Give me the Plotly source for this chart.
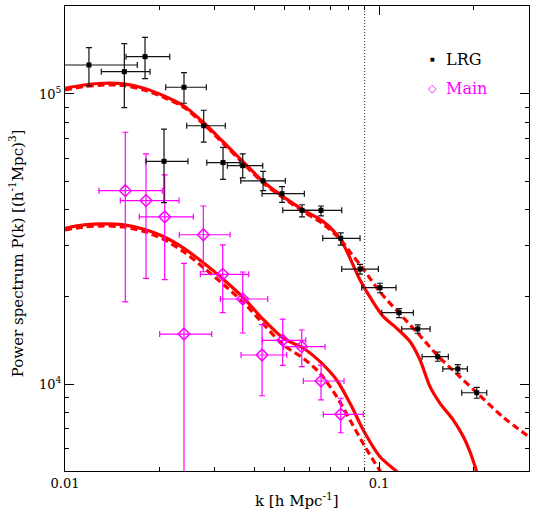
import plotly.graph_objects as go

# ---------------- data ----------------
# LRG band powers: k, P and error-bar extents
lrg_k = [0.01192, 0.01545, 0.01798, 0.02393, 0.02765, 0.02067, 0.03186, 0.03681, 0.04272, 0.04911,
         0.05686, 0.06535, 0.07551, 0.08700, 0.1007, 0.1158, 0.1328, 0.1538, 0.1781, 0.2047]
lrg_p = [1.259e5, 1.194e5, 1.345e5, 1.055e5, 7.77e4, 5.86e4, 5.80e4, 5.66e4, 5.02e4, 4.53e4,
         3.97e4, 3.97e4, 3.18e4, 2.49e4, 2.149e4, 1.762e4, 1.548e4, 1.242e4, 1.127e4, 9.33e3]
lrg_k_lo = [0.00837, 0.01305, 0.01564, 0.02093, 0.02441, 0.01811, 0.02827, 0.03288, 0.03628, 0.04241,
            0.04935, 0.05686, 0.06618, 0.07607, 0.0881, 0.1020, 0.1181, 0.1371, 0.1596, 0.1834]
lrg_k_hi = [0.01699, 0.01865, 0.02155, 0.02818, 0.03240, 0.02464, 0.03609, 0.04262, 0.05030, 0.05783,
            0.06535, 0.07607, 0.08700, 0.0995, 0.1133, 0.1286, 0.1454, 0.1662, 0.1911, 0.2203]
lrg_p_lo = [1.066e5, 8.97e4, 1.129e5, 9.29e4, 6.82e4, 4.22e4, 5.08e4, 5.14e4, 4.64e4, 4.23e4,
            3.77e4, 3.80e4, 3.01e4, 2.394e4, 2.064e4, 1.693e4, 1.496e4, 1.198e4, 1.089e4, 8.93e3]
lrg_p_hi = [1.444e5, 1.491e5, 1.568e5, 1.184e5, 8.79e4, 7.57e4, 6.55e4, 6.22e4, 5.41e4, 4.79e4,
            4.15e4, 4.11e4, 3.32e4, 2.587e4, 2.225e4, 1.818e4, 1.598e4, 1.289e4, 1.166e4, 9.74e3]

# Main sample band powers
main_k = [0.01556, 0.01811, 0.02077, 0.02757, 0.02393, 0.03179, 0.03681, 0.04241, 0.04935, 0.05673,
          0.06535, 0.07551]
main_p = [4.64e4, 4.29e4, 3.77e4, 3.27e4, 1.487e4, 2.389e4, 1.964e4, 1.259e4, 1.415e4, 1.345e4,
          1.024e4, 7.86e3]
main_k_lo = [0.01283, 0.0150, 0.01724, 0.02312, 0.02002, 0.02697, 0.03124, 0.03636, 0.04250, 0.04958,
             0.05741, 0.06647]
main_k_hi = [0.02041, 0.02307, 0.02562, 0.03354, 0.02933, 0.03846, 0.04421, 0.05082, 0.05843, 0.06730,
             0.07736, 0.08913]
main_p_lo = [1.918e4, 2.314e4, 2.289e4, 2.438e4, 3.0e3, 1.762e4, 1.499e4, 9.11e3, 1.160e4, 1.147e4,
             8.81e3, 6.79e3]
main_p_hi = [7.38e4, 6.22e4, 5.26e4, 4.11e4, 2.607e4, 3.02e4, 2.433e4, 1.601e4, 1.675e4, 1.535e4,
             1.162e4, 8.93e3]

# Model curves: LRG (solid = with wiggles, dashed = smooth)
lrg_model_k = [0.0100, 0.0115, 0.01331, 0.01541, 0.01785, 0.02067, 0.02393, 0.02771, 0.03193, 0.03697,
               0.04281, 0.04958, 0.05741, 0.06647, 0.07551, 0.0870, 0.09480, 0.1032, 0.1139, 0.1256,
               0.1351, 0.1453, 0.1564, 0.1724, 0.1856, 0.1949, 0.2047, 0.2128]
lrg_model_p = [1.046e5, 1.074e5, 1.089e5, 1.083e5, 1.046e5, 9.84e4, 9.09e4, 7.94e4, 6.83e4, 5.83e4,
               4.98e4, 4.42e4, 3.98e4, 3.63e4, 3.14e4, 2.284e4, 1.949e4, 1.707e4, 1.556e4, 1.399e4,
               1.210e4, 9.79e3, 8.58e3, 7.51e3, 6.58e3, 5.83e3, 4.98e3, 4.31e3]
lrg_smooth_k = [0.0100, 0.0115, 0.01331, 0.01541, 0.01785, 0.02067, 0.02393, 0.02771, 0.03193, 0.03697,
                0.04281, 0.04958, 0.05741, 0.06647, 0.07551, 0.08084, 0.08913, 0.1007, 0.1158, 0.1331,
                0.1541, 0.1785, 0.2052, 0.2483, 0.3005]
lrg_smooth_p = [1.032e5, 1.061e5, 1.074e5, 1.070e5, 1.032e5, 9.73e4, 8.98e4, 7.85e4, 6.75e4, 5.76e4,
                4.93e4, 4.38e4, 3.93e4, 3.56e4, 3.14e4, 2.852e4, 2.491e4, 2.076e4, 1.757e4, 1.493e4,
                1.249e4, 1.074e4, 9.31e3, 7.69e3, 6.57e3]

# Model curves: Main (solid / dashed)
main_model_k = [0.0100, 0.0115, 0.01331, 0.01541, 0.01785, 0.02067, 0.02393, 0.02771, 0.03209, 0.03716,
                0.04241, 0.04958, 0.05741, 0.06487, 0.0733, 0.08084, 0.09023, 0.1007, 0.1124, 0.1256]
main_model_p = [3.443e4, 3.535e4, 3.563e4, 3.535e4, 3.415e4, 3.220e4, 2.937e4, 2.607e4, 2.284e4, 1.975e4,
                1.685e4, 1.438e4, 1.328e4, 1.194e4, 1.032e4, 8.58e3, 6.76e3, 5.61e3, 5.05e3, 4.59e3]
main_smooth_k = [0.0100, 0.0115, 0.01331, 0.01541, 0.01785, 0.02067, 0.02393, 0.02771, 0.03209, 0.03716,
                 0.04281, 0.04958, 0.05741, 0.06487, 0.0733, 0.08084, 0.09023, 0.0995, 0.1084]
main_smooth_p = [3.396e4, 3.479e4, 3.507e4, 3.479e4, 3.357e4, 3.148e4, 2.852e4, 2.512e4, 2.195e4, 1.902e4,
                 1.610e4, 1.363e4, 1.226e4, 1.089e4, 9.04e3, 7.51e3, 6.08e3, 5.12e3, 4.48e3]

k_nonlinear = 0.09

x_ticks = [0.01, 0.1]
x_tick_text = ["0.01", "0.1"]
x_minor = [0.02, 0.03, 0.04, 0.05, 0.06, 0.07, 0.08, 0.09, 0.2, 0.3]
y_ticks = [1e4, 1e5]
y_tick_text = ["10<sup>4</sup>", "10<sup>5</sup>"]
y_minor = [6000, 7000, 8000, 9000, 20000, 30000, 40000, 50000, 60000, 70000, 80000, 90000, 200000]

# ---------------- figure ----------------
RED = "#ff0000"
MAG = "#ff00ff"
FONT = "DejaVu Serif"

fig = go.Figure()

curve_style = dict(mode="lines", showlegend=False, hoverinfo="skip")
fig.add_trace(go.Scatter(x=lrg_model_k, y=lrg_model_p, line=dict(color=RED, width=3.2, shape="spline", smoothing=0.8), **curve_style))
fig.add_trace(go.Scatter(x=lrg_smooth_k, y=lrg_smooth_p, line=dict(color=RED, width=3.2, dash="7px,4px", shape="spline", smoothing=0.8), **curve_style))
fig.add_trace(go.Scatter(x=main_model_k, y=main_model_p, line=dict(color=RED, width=3.2, shape="spline", smoothing=0.8), **curve_style))
fig.add_trace(go.Scatter(x=main_smooth_k, y=main_smooth_p, line=dict(color=RED, width=3.2, dash="7px,4px", shape="spline", smoothing=0.8), **curve_style))


def errs(v, lo, hi):
    return [h - c for c, h in zip(v, hi)], [c - l for c, l in zip(v, lo)]


mk_p, mk_m = errs(main_k, main_k_lo, main_k_hi)
mp_p, mp_m = errs(main_p, main_p_lo, main_p_hi)
fig.add_trace(go.Scatter(
    x=main_k, y=main_p, mode="markers", name="Main", showlegend=False,
    marker=dict(symbol="diamond-open", size=9, color=MAG, line=dict(color=MAG, width=1.5)),
    error_x=dict(type="data", symmetric=False, array=mk_p, arrayminus=mk_m, color=MAG, thickness=1.2, width=3),
    error_y=dict(type="data", symmetric=False, array=mp_p, arrayminus=mp_m, color=MAG, thickness=1.2, width=3),
))

lk_p, lk_m = errs(lrg_k, lrg_k_lo, lrg_k_hi)
lp_p, lp_m = errs(lrg_p, lrg_p_lo, lrg_p_hi)
fig.add_trace(go.Scatter(
    x=lrg_k, y=lrg_p, mode="markers", name="LRG", showlegend=False,
    marker=dict(symbol="square", size=5, color="black"),
    error_x=dict(type="data", symmetric=False, array=lk_p, arrayminus=lk_m, color="#111111", thickness=1.2, width=3),
    error_y=dict(type="data", symmetric=False, array=lp_p, arrayminus=lp_m, color="#111111", thickness=1.2, width=3),
))

fig.add_shape(type="line", xref="x", yref="paper", x0=k_nonlinear, x1=k_nonlinear, y0=0, y1=1,
              line=dict(color="#333333", width=1, dash="1px,2px"))

axis_common = dict(
    type="log", showgrid=False, zeroline=False, showline=True, linecolor="black", linewidth=1.3,
    mirror="ticks", ticks="inside", ticklen=9, tickwidth=1, tickcolor="black",
    tickfont=dict(family=FONT, size=13, color="black"),
)
fig.update_xaxes(**axis_common, range=[-2, -0.5225], tickvals=x_ticks, ticktext=x_tick_text,
                 minor=dict(tickvals=x_minor, ticks="inside", ticklen=4, tickwidth=1, tickcolor="black"))
fig.update_yaxes(**axis_common, range=[3.70, 5.3034], tickvals=y_ticks, ticktext=y_tick_text,
                 minor=dict(tickvals=y_minor, ticks="inside", ticklen=4, tickwidth=1, tickcolor="black"))

annotations = [
    dict(text="k [h Mpc<sup>-1</sup>]", x=0.5, y=-0.062, xref="paper", yref="paper",
         showarrow=False, xanchor="center", yanchor="middle", font=dict(family=FONT, size=15, color="black")),
    dict(text="Power spectrum P(k) [(h<sup>-1</sup>Mpc)<sup>3</sup>]", x=-0.105, y=0.469, xref="paper", yref="paper",
         textangle=-90, showarrow=False, xanchor="center", yanchor="middle", font=dict(family=FONT, size=15, color="black")),
    dict(text="■", x=0.7925, y=0.8854, xref="paper", yref="paper", showarrow=False,
         xanchor="center", yanchor="middle", font=dict(family="DejaVu Sans", size=5, color="black")),
    dict(text="LRG", x=0.8168, y=0.8854, xref="paper", yref="paper", showarrow=False,
         xanchor="left", yanchor="middle", font=dict(family=FONT, size=16, color="black")),
    dict(text="◇", x=0.7925, y=0.823, xref="paper", yref="paper", showarrow=False,
         xanchor="center", yanchor="middle", font=dict(family="DejaVu Sans", size=11, color=MAG)),
    dict(text="Main", x=0.8168, y=0.823, xref="paper", yref="paper", showarrow=False,
         xanchor="left", yanchor="middle", font=dict(family=FONT, size=16, color=MAG)),
]

fig.update_layout(
    width=536, height=514,
    margin=dict(l=65, r=7, t=6, b=43),
    paper_bgcolor="white", plot_bgcolor="white",
    showlegend=False,
    annotations=annotations,
)

fig.write_html("out.html")
